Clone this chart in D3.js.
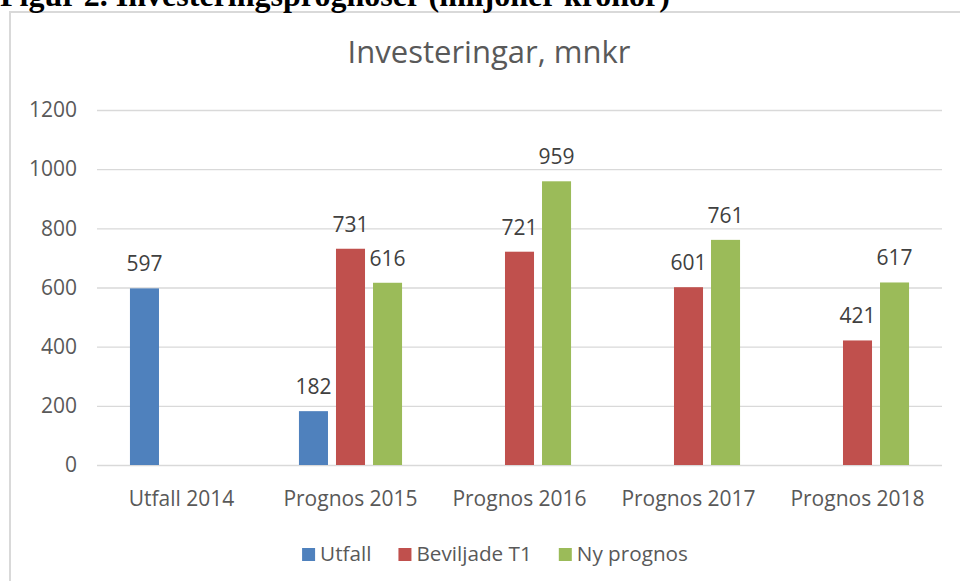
<!DOCTYPE html>
<html>
<head>
<meta charset="utf-8">
<script src="https://cdn.jsdelivr.net/npm/d3@7/dist/d3.min.js"></script>
<style>
    body { margin: 0; background: #fff; }
    svg { display: block; font-family: "Open Sans", sans-serif; }
</style>
</head>
<body>
<div id="vis"></div>
<script>
const categories = ['Utfall 2014', 'Prognos 2015', 'Prognos 2016', 'Prognos 2017', 'Prognos 2018']
const seriesNames = ['Utfall', 'Beviljade T1', 'Ny prognos']
const utfall = [597, 182, null, null, null]
const beviljade = [null, 731, 721, 601, 421]
const nyPrognos = [null, 616, 959, 761, 617]
const yTicks = [0, 200, 400, 600, 800, 1000, 1200]
const colors = ['#4f81bd', '#c0504d', '#9bbb59']
const heading = 'Figur 2. Investeringsprognoser (miljoner kronor)'
const chartTitle = 'Investeringar, mnkr'

const width = 960
const height = 581
const plot = {left: 97, right: 942, top: 110, bottom: 465}
const textColor = '#595959'
const gridColor = '#d9d9d9'

// one row per category, values in series order
const rows = categories.map((c, i) => ({
    category: c,
    values: [utfall[i], beviljade[i], nyPrognos[i]]
}))

const svg = d3.select('#vis')
    .append('svg')
    .attr('width', width)
    .attr('height', height)

// chart frame (runs off the right and bottom edge)
svg.append('rect')
    .attr('x', 10)
    .attr('y', 12)
    .attr('width', 1000)
    .attr('height', 700)
    .attr('fill', '#fff')
    .attr('stroke', gridColor)
    .attr('stroke-width', 2)

svg.append('text')
    .attr('x', 0)
    .attr('y', 6)
    .style('font-family', '"Liberation Serif", serif')
    .style('font-weight', 'bold')
    .style('font-size', '32px')
    .attr('fill', '#000')
    .text(heading)

svg.append('text')
    .attr('x', 489)
    .attr('y', 63)
    .attr('text-anchor', 'middle')
    .style('font-size', '31px')
    .attr('fill', textColor)
    .text(chartTitle)

let x0 = d3.scaleBand()
    .domain(categories)
    .range([plot.left, plot.right])
    .paddingInner(0.39)
    .paddingOuter(0.195)

let x1 = d3.scaleBand()
    .domain(seriesNames)
    .range([0, x0.bandwidth()])
    .paddingInner(0.216)

let yScale = d3.scaleLinear()
    .domain([0, 1200])
    .range([plot.bottom, plot.top])

// gridlines + y labels
let yAxis = svg.append('g')
    .attr('transform', `translate(${plot.left},0)`)
    .call(d3.axisLeft(yScale)
        .tickValues(yTicks)
        .tickFormat(d3.format('d'))
        .tickSize(-(plot.right - plot.left))
        .tickPadding(20))
yAxis.select('.domain').remove()
yAxis.selectAll('.tick line')
    .attr('stroke', gridColor)
    .attr('stroke-width', 1.3)
yAxis.selectAll('.tick text')
    .attr('fill', textColor)
    .style('font-size', '21px')
    .style('font-family', '"Open Sans", sans-serif')

// category labels
let xAxis = svg.append('g')
    .attr('transform', `translate(0,${plot.bottom})`)
    .call(d3.axisBottom(x0).tickSize(0).tickPadding(26))
xAxis.select('.domain').remove()
xAxis.selectAll('.tick text')
    .attr('fill', textColor)
    .style('font-size', '21px')
    .style('font-family', '"Open Sans", sans-serif')

// bars
const groups = svg.selectAll('.group')
    .data(rows)
    .join('g')
    .attr('class', 'group')
    .attr('transform', d => `translate(${x0(d.category)},0)`)

const cells = d => d.values
    .map((v, i) => ({series: seriesNames[i], value: v, color: colors[i]}))
    .filter(c => c.value !== null)

groups.selectAll('rect')
    .data(cells)
    .join('rect')
    .attr('x', d => x1(d.series))
    .attr('y', d => yScale(d.value))
    .attr('width', x1.bandwidth())
    .attr('height', d => yScale(0) - yScale(d.value))
    .attr('fill', d => d.color)

groups.selectAll('.value')
    .data(cells)
    .join('text')
    .attr('class', 'value')
    .attr('x', d => x1(d.series) + x1.bandwidth() / 2)
    .attr('y', d => yScale(d.value) - 17)
    .attr('text-anchor', 'middle')
    .style('font-size', '21px')
    .attr('fill', '#404040')
    .text(d => d.value)

// legend, centred
const legend = svg.append('g')
const items = legend.selectAll('g')
    .data(seriesNames)
    .join('g')
items.append('rect')
    .attr('width', 13)
    .attr('height', 13)
    .attr('y', -13)
    .attr('fill', (d, i) => colors[i])
items.append('text')
    .attr('x', 18)
    .attr('y', 0)
    .style('font-size', '20.7px')
    .attr('fill', textColor)
    .text(d => d)

let offset = 0
items.each(function() {
    const w = d3.select(this).select('text').node().getComputedTextLength()
    d3.select(this).attr('transform', `translate(${offset},0)`)
    offset += 18 + w + 27
})
const legendWidth = offset - 27
legend.attr('transform', `translate(${495 - legendWidth / 2},561)`)
</script>
</body>
</html>
